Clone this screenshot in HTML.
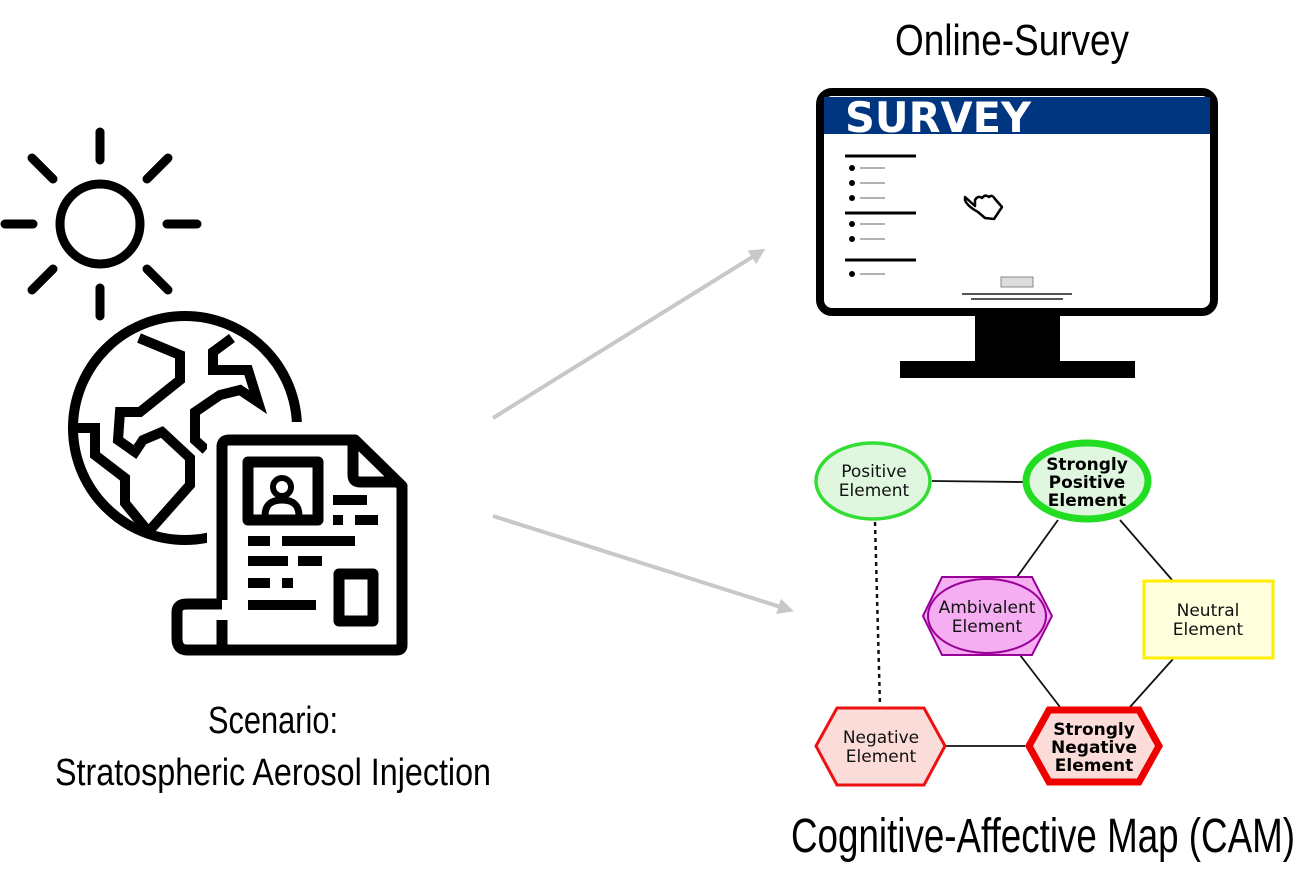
<!DOCTYPE html>
<html><head><meta charset="utf-8"><style>html,body{margin:0;padding:0;background:#fff}svg{display:block}</style></head><body>
<svg width="1303" height="881" viewBox="0 0 1303 881" xmlns="http://www.w3.org/2000/svg">
<defs><marker id="ah" markerWidth="4" markerHeight="4" refX="3" refY="2" orient="auto" markerUnits="strokeWidth"><path d="M0,0 L4,2 L0,4 z" fill="#c8c8c8"/></marker></defs>
<!-- Sun -->
<g stroke="#000" stroke-width="9" stroke-linecap="round" fill="none">
<circle cx="100" cy="224" r="40"/>
<line x1="100" y1="132" x2="100" y2="160"/><line x1="100" y1="288" x2="100" y2="316"/>
<line x1="5" y1="224" x2="33" y2="224"/><line x1="167" y1="224" x2="197" y2="224"/>
<line x1="32" y1="158" x2="53" y2="179"/><line x1="147" y1="179" x2="168" y2="158"/>
<line x1="32" y1="290" x2="53" y2="269"/><line x1="147" y1="269" x2="168" y2="290"/>
</g>
<!-- Globe -->
<g stroke="#000" stroke-width="10" fill="none" stroke-linejoin="miter">
<circle cx="185" cy="428" r="112"/>
<polyline points="139,338 180,355 180,380 140,412 120,412 118,440 135,452 143,440 162,432 190,458 190,485 150,530"/>
<polyline points="72,428 95,428 95,455 125,478 125,503 147,530"/>
<polyline points="232,338 213,352 213,370 248,370 258,402 240,390 220,395 195,412 195,440 206,450"/>
</g>
<!-- Document -->
<path d="M222,437 H357 L404,483 V645 Q404,652 397,652 H187 Q175,652 175,638 V610 Q175,600 187,600 H222 Z" fill="#fff" stroke="#fff" stroke-width="30" stroke-linejoin="round"/>
<g stroke="#000" stroke-width="11" fill="none" stroke-linejoin="round">
<path d="M222,600 V447 Q222,440 229,440 H355 L402,486 V645 Q402,650 397,650 H187 Q177,650 177,638 V612 Q177,604 187,604 H222"/>
<path d="M353,442 V475 Q353,482 360,482 H400"/>
<path d="M222,620 V650"/>
<rect x="248" y="462" width="70" height="58"/>
<rect x="339" y="574" width="34" height="47"/>
</g>
<circle cx="282" cy="487" r="9" fill="none" stroke="#000" stroke-width="6"/>
<path d="M265,516 Q265,500 282,500 Q299,500 299,516" fill="none" stroke="#000" stroke-width="7"/>
<g fill="#000">
<rect x="333" y="495" width="34" height="10"/><rect x="333" y="515" width="10" height="10"/><rect x="355" y="515" width="23" height="10"/>
<rect x="248" y="536" width="22" height="10"/><rect x="282" y="536" width="73" height="10"/>
<rect x="248" y="556" width="40" height="10"/><rect x="298" y="556" width="24" height="10"/>
<rect x="248" y="578" width="22" height="10"/><rect x="282" y="578" width="11" height="10"/>
<rect x="248" y="600" width="68" height="10"/>
</g>
<!-- arrows -->
<line x1="493" y1="418" x2="762" y2="251" stroke="#c8c8c8" stroke-width="4" marker-end="url(#ah)"/>
<line x1="493" y1="516" x2="790" y2="610" stroke="#c8c8c8" stroke-width="4" marker-end="url(#ah)"/>
<!-- Monitor -->
<rect x="820" y="92" width="394" height="220" rx="12" fill="#fff" stroke="#000" stroke-width="8"/>
<rect x="824" y="97" width="386" height="37" fill="#003580"/>
<text x="845" y="132" font-family="'DejaVu Sans','Liberation Sans',sans-serif" font-weight="bold" font-size="42" fill="#fff" textLength="186" lengthAdjust="spacingAndGlyphs">SURVEY</text>
<rect x="975" y="316" width="85" height="48" fill="#000"/>
<rect x="900" y="361" width="235" height="17" fill="#000"/>
<g stroke="#000" stroke-width="3"><line x1="845" y1="156" x2="916" y2="156"/><line x1="845" y1="213" x2="916" y2="213"/><line x1="845" y1="260" x2="916" y2="260"/></g>
<g fill="#000"><circle cx="852" cy="168" r="3"/><circle cx="852" cy="183" r="3"/><circle cx="852" cy="198" r="3"/><circle cx="852" cy="224" r="3"/><circle cx="852" cy="239" r="3"/><circle cx="852" cy="274" r="3"/></g>
<g stroke="#666" stroke-width="1"><line x1="860" y1="168" x2="885" y2="168"/><line x1="860" y1="183" x2="885" y2="183"/><line x1="860" y1="198" x2="885" y2="198"/><line x1="860" y1="224" x2="885" y2="224"/><line x1="860" y1="239" x2="885" y2="239"/><line x1="860" y1="274" x2="885" y2="274"/></g>
<rect x="1001" y="277" width="32" height="10" fill="#ddd" stroke="#888" stroke-width="1"/>
<line x1="962" y1="294" x2="1072" y2="294" stroke="#555" stroke-width="2"/>
<line x1="971" y1="299" x2="1063" y2="299" stroke="#555" stroke-width="2"/>
<path d="M965,197 L975,206 L975,200 Q978,195 982,198 Q985,194 989,197 Q992,194 995,199 L1002,207 L994,219 L985,218 L978,212 Q967,206 965,200 Z" fill="#fff" stroke="#000" stroke-width="2.5" stroke-linejoin="round"/>
<!-- CAM edges -->
<g stroke="#111" stroke-width="1.8">
<line x1="932" y1="481" x2="1023" y2="482"/>
<line x1="1058" y1="520" x2="1017" y2="577"/><line x1="1120" y1="520" x2="1173" y2="581"/>
<line x1="1020" y1="655" x2="1060" y2="707"/><line x1="1173" y1="659" x2="1130" y2="707"/>
<line x1="946" y1="746" x2="1025" y2="746"/>
<line x1="875" y1="522" x2="880" y2="706" stroke-dasharray="4,4" stroke-width="2.5"/>
</g>
<ellipse cx="873" cy="481" rx="57" ry="38" fill="#dff7df" stroke="#33dd33" stroke-width="3.5"/>
<ellipse cx="1087" cy="481" rx="61" ry="38" fill="#dff7df" stroke="#22dd22" stroke-width="7"/>
<polygon points="923,616 942,577 1032,577 1052,616 1032,655 942,655" fill="#f6aef3" stroke="#990099" stroke-width="2"/>
<ellipse cx="987" cy="616" rx="59" ry="37" fill="#f6aef3" stroke="#990099" stroke-width="2"/>
<rect x="1144" y="581" width="129" height="77" fill="#ffffdd" stroke="#ffee00" stroke-width="3"/>
<polygon points="816,746 837,708 924,708 945,746 924,785 837,785" fill="#fbdcd8" stroke="#ee1111" stroke-width="3"/>
<polygon points="1029,746 1049,710 1139,710 1159,746 1139,782 1049,782" fill="#fbdcd8" stroke="#ee0000" stroke-width="7"/>
<g font-family="'DejaVu Sans','Liberation Sans',sans-serif" font-size="17" text-anchor="middle" fill="#111">
<text x="874" y="477">Positive</text><text x="874" y="496">Element</text>
<text x="987" y="613">Ambivalent</text><text x="987" y="632">Element</text>
<text x="1208" y="616">Neutral</text><text x="1208" y="635">Element</text>
<text x="881" y="743">Negative</text><text x="881" y="762">Element</text>
<g font-weight="bold" fill="#000"><text x="1087" y="470">Strongly</text><text x="1087" y="488">Positive</text><text x="1087" y="506">Element</text>
<text x="1094" y="735">Strongly</text><text x="1094" y="753">Negative</text><text x="1094" y="771">Element</text></g>
</g>
<!-- titles -->
<g font-family="'Liberation Sans Narrow','Liberation Sans',sans-serif" fill="#000">
<text x="895" y="55" font-size="44" textLength="234" lengthAdjust="spacingAndGlyphs">Online-Survey</text>
<text x="208" y="733" font-size="38" textLength="130" lengthAdjust="spacingAndGlyphs">Scenario:</text>
<text x="55" y="785" font-size="38" textLength="436" lengthAdjust="spacingAndGlyphs">Stratospheric Aerosol Injection</text>
<text x="791" y="852" font-size="48" textLength="504" lengthAdjust="spacingAndGlyphs">Cognitive-Affective Map (CAM)</text>
</g>
</svg>
</body></html>
